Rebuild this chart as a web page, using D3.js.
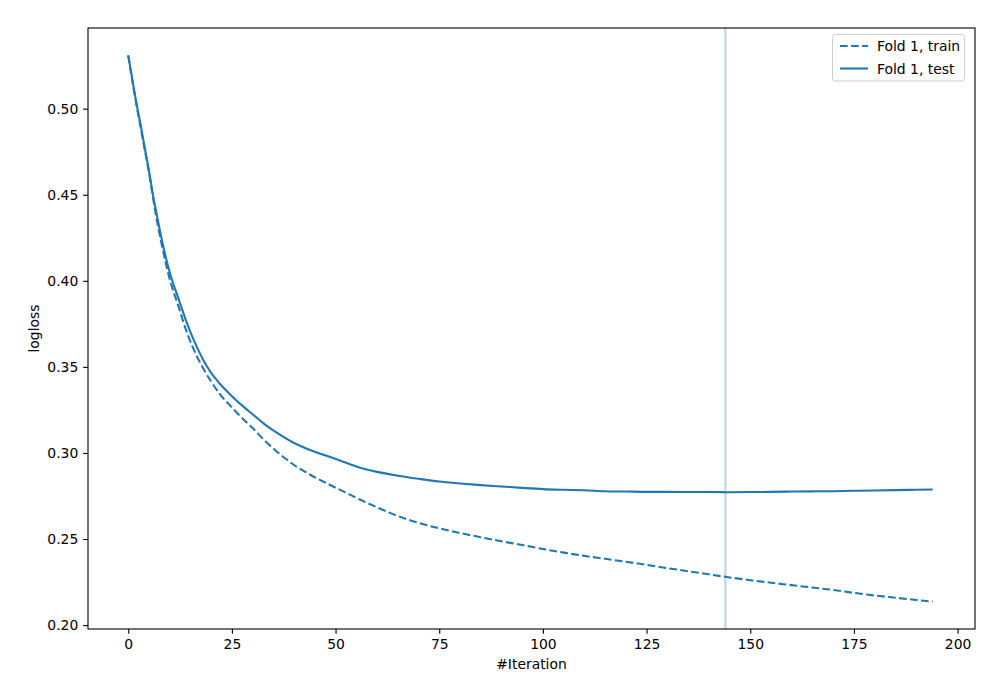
<!DOCTYPE html>
<html>
<head>
<meta charset="utf-8">
<script src="https://cdn.jsdelivr.net/npm/d3@7"></script>
<style>
  html, body { margin: 0; padding: 0; background: #fff; }
  svg { display: block; }
  text { font-family: "DejaVu Sans", sans-serif; }
</style>
</head>
<body>
<svg id="chart" width="1000" height="700"></svg>
<script>
// ---- data ----
const trainIter = [0,1,2,3,4,5,6,7,8,10,12,14,16,18,20,22,25,28,30,33,36,40,44,48,52,56,60,65,70,75,80,85,90,95,100,105,110,115,120,125,130,135,140,145,150,155,160,165,170,175,180,185,190,194];
const trainLoss = [0.531,0.516,0.502,0.489,0.476,0.463,0.448,0.434,0.422,0.401,0.386,0.371,0.359,0.3495,0.3415,0.3345,0.3265,0.319,0.3145,0.307,0.3005,0.2930,0.2872,0.2822,0.2775,0.2728,0.2684,0.2634,0.2594,0.2562,0.2535,0.2510,0.2487,0.2465,0.2442,0.2421,0.2402,0.2385,0.2368,0.2350,0.2331,0.2313,0.2295,0.2277,0.2261,0.2246,0.2232,0.2218,0.2204,0.2187,0.2172,0.2159,0.2146,0.2136];
const testIter = [0,1,2,3,4,5,6,7,8,10,12,14,16,18,20,22,25,28,30,33,36,40,44,48,52,56,60,65,70,75,80,85,90,95,100,105,110,115,120,125,130,135,140,145,150,155,160,165,170,175,180,185,190,194];
const testLoss = [0.531,0.517,0.503,0.4905,0.477,0.464,0.4495,0.437,0.425,0.405,0.3905,0.3765,0.3645,0.3545,0.3465,0.3405,0.333,0.3265,0.3225,0.3165,0.3115,0.3058,0.3016,0.2982,0.2948,0.2914,0.2890,0.2868,0.2850,0.2834,0.2823,0.2813,0.2805,0.2797,0.2790,0.2786,0.2783,0.2778,0.2776,0.2774,0.2774,0.2773,0.2773,0.2772,0.2773,0.2774,0.2776,0.2777,0.2778,0.2780,0.2782,0.2784,0.2786,0.2788];
const bestIteration = 144;
const xTicks = [0,25,50,75,100,125,150,175,200];
const yTicks = [0.20,0.25,0.30,0.35,0.40,0.45,0.50];
const seriesNames = ["Fold 1, train", "Fold 1, test"];
const xLabel = "#Iteration";
const yLabel = "logloss";

// ---- layout ----
const L = 88, R = 975, T = 28, B = 629;
const blue = "#1f77b4";
const fs = 13.9;
const svg = d3.select("#chart");

const allIter = trainIter.concat(testIter);
const allLoss = trainLoss.concat(testLoss);
const xmin = d3.min(allIter), xmax = d3.max(allIter);
const ymin = d3.min(allLoss), ymax = d3.max(allLoss);
const xm = (xmax - xmin) * 0.05, ym = (ymax - ymin) * 0.05;

const x = d3.scaleLinear().domain([xmin - xm, xmax + xm + 0.5]).range([L, R]);
const y = d3.scaleLinear().domain([ymin - ym, ymax + ym]).range([B, T]);

svg.append("defs").append("clipPath").attr("id", "clip")
  .append("rect").attr("x", L).attr("y", T).attr("width", R - L).attr("height", B - T);

const plot = svg.append("g").attr("clip-path", "url(#clip)");

// best iteration line
plot.append("line")
  .attr("x1", x(bestIteration)).attr("x2", x(bestIteration))
  .attr("y1", T).attr("y2", B)
  .attr("stroke", blue).attr("stroke-opacity", 0.3).attr("stroke-width", 2.1);

const line = d3.line().curve(d3.curveMonotoneX).x(d => x(d[0])).y(d => y(d[1]));

plot.append("path")
  .datum(trainIter.map((d, i) => [d, trainLoss[i]]))
  .attr("d", line).attr("fill", "none")
  .attr("stroke", blue).attr("stroke-width", 2.08)
  .attr("stroke-dasharray", "7.7,3.33");

plot.append("path")
  .datum(testIter.map((d, i) => [d, testLoss[i]]))
  .attr("d", line).attr("fill", "none")
  .attr("stroke", blue).attr("stroke-width", 2.08)
  .attr("stroke-linejoin", "round");

// axes
const xAxis = d3.axisBottom(x).tickValues(xTicks).tickSize(4.86).tickPadding(4.86).tickFormat(d3.format("d"));
const yAxis = d3.axisLeft(y).tickValues(yTicks).tickSize(4.86).tickPadding(4.86).tickFormat(d3.format(".2f"));

const gx = svg.append("g").attr("transform", `translate(0,${B})`).call(xAxis);
const gy = svg.append("g").attr("transform", `translate(${L},0)`).call(yAxis);
[gx, gy].forEach(g => {
  g.select(".domain").remove();
  g.selectAll("line").attr("stroke", "#000").attr("stroke-width", 1.1);
  g.selectAll("text").attr("font-size", fs).attr("fill", "#000").attr("font-family", "DejaVu Sans");
});

// frame
svg.append("rect").attr("x", L).attr("y", T).attr("width", R - L).attr("height", B - T)
  .attr("fill", "none").attr("stroke", "#000").attr("stroke-width", 1.1);

// axis labels
svg.append("text").attr("x", (L + R) / 2).attr("y", 669).attr("text-anchor", "middle")
  .attr("font-size", fs).text(xLabel);
svg.append("text").attr("transform", `translate(39,${(T + B) / 2}) rotate(-90)`)
  .attr("text-anchor", "middle").attr("font-size", fs).text(yLabel);

// legend
const lg = svg.append("g");
lg.append("rect").attr("x", 832.5).attr("y", 34.5).attr("width", 132).attr("height", 46.5)
  .attr("rx", 3).attr("fill", "#fff").attr("fill-opacity", 0.8)
  .attr("stroke", "#ccc").attr("stroke-width", 1);
const styles = ["7.7,3.33", null];
seriesNames.forEach((name, i) => {
  const cy = 46 + i * 22.5;
  const l = lg.append("line").attr("x1", 840).attr("x2", 868).attr("y1", cy).attr("y2", cy)
    .attr("stroke", blue).attr("stroke-width", 2.08);
  if (styles[i]) l.attr("stroke-dasharray", styles[i]);
  lg.append("text").attr("x", 877).attr("y", cy + 5).attr("font-size", fs).attr("fill", "#000").text(name);
});
</script>
</body>
</html>
